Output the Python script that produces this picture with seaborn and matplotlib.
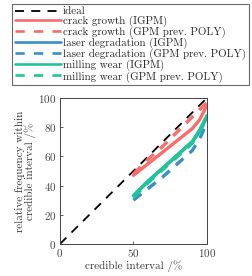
import numpy as np
import pandas as pd
import seaborn as sns
import matplotlib
matplotlib.use("Agg")
import matplotlib.pyplot as plt
from matplotlib.lines import Line2D

sns.set_style("ticks")
plt.rcParams['font.family'] = ['cmr10', 'DejaVu Serif']
plt.rcParams['mathtext.fontset'] = 'cm'
plt.rcParams['axes.formatter.use_mathtext'] = True

ci = [50, 60, 70, 80, 90, 95, 100]
ideal_x = [0, 100]
ideal_y = [0, 100]
crack_igpm = [47, 55, 63, 71, 79, 85, 95]
crack_poly = [48, 58, 67, 77, 87, 92, 97]
laser_igpm = [33, 43, 52, 61, 70, 77, 87]
laser_poly = [30, 38, 46, 55, 64, 72, 83]
mill_igpm = [33, 43, 52, 61, 70, 78, 88]
mill_poly = [32, 42, 51, 60, 69, 77, 86]

red = '#fa6b6b'
blue = '#3a8fc8'
green = '#1ec596'

fig = plt.figure(figsize=(2.53, 2.76), dpi=100)
ax = fig.add_axes([0.237, 0.116, 0.581, 0.529])

series = [
    (ideal_x, ideal_y, 'ideal', 'black', (0, (5, 4)), 1.3),
    (ci, crack_igpm, 'crack growth (IGPM)', red, '-', 2.4),
    (ci, crack_poly, 'crack growth (GPM prev. POLY)', red, (0, (3, 2.5)), 2.4),
    (ci, laser_igpm, 'laser degradation (IGPM)', blue, '-', 2.4),
    (ci, laser_poly, 'laser degradation (GPM prev. POLY)', blue, (0, (3, 2.5)), 2.4),
    (ci, mill_igpm, 'milling wear (IGPM)', green, '-', 2.4),
    (ci, mill_poly, 'milling wear (GPM prev. POLY)', green, (0, (3, 2.5)), 2.4),
]
handles = []
labels = []
for x, y, lab, c, ls, lw in series:
    df = pd.DataFrame({'x': x, 'y': y})
    sns.lineplot(data=df, x='x', y='y', ax=ax, color=c, linestyle=ls, lw=lw)
    if ls == '-':
        hls = '-'
    elif c == 'black':
        hls = ls
    else:
        hls = (0, (3.5, 3.5))
    handles.append(Line2D([], [], color=c, linestyle=hls, lw=1.3 if c == 'black' else 1.9))
    labels.append(lab)

ax.set_xlim(0, 100)
ax.set_ylim(0, 100)
ax.set_xticks([0, 50, 100])
ax.set_yticks([0, 20, 40, 60, 80, 100])
ax.tick_params(labelsize=8, direction='in', length=2, width=0.6, colors='#444444', pad=2.5)
for s in ax.spines.values():
    s.set_visible(True)
    s.set_color('#444444')
    s.set_linewidth(0.7)
ax.set_xlabel('credible interval /%', fontsize=8, labelpad=1, color='#333333')
ax.set_ylabel('relative frequency within\ncredible interval /%', fontsize=8, labelpad=2,
              linespacing=0.9, color='#333333')

leg = fig.legend(handles, labels, loc='upper left', bbox_to_anchor=(12/253, 1 - 4/276),
                 fontsize=7.9, frameon=True, fancybox=False, edgecolor='#444444',
                 handlelength=4.2, handletextpad=0.2, labelspacing=-0.03,
                 borderpad=0.25, borderaxespad=0)
leg.get_frame().set_linewidth(0.8)

fig.savefig('out.png', dpi=100)
